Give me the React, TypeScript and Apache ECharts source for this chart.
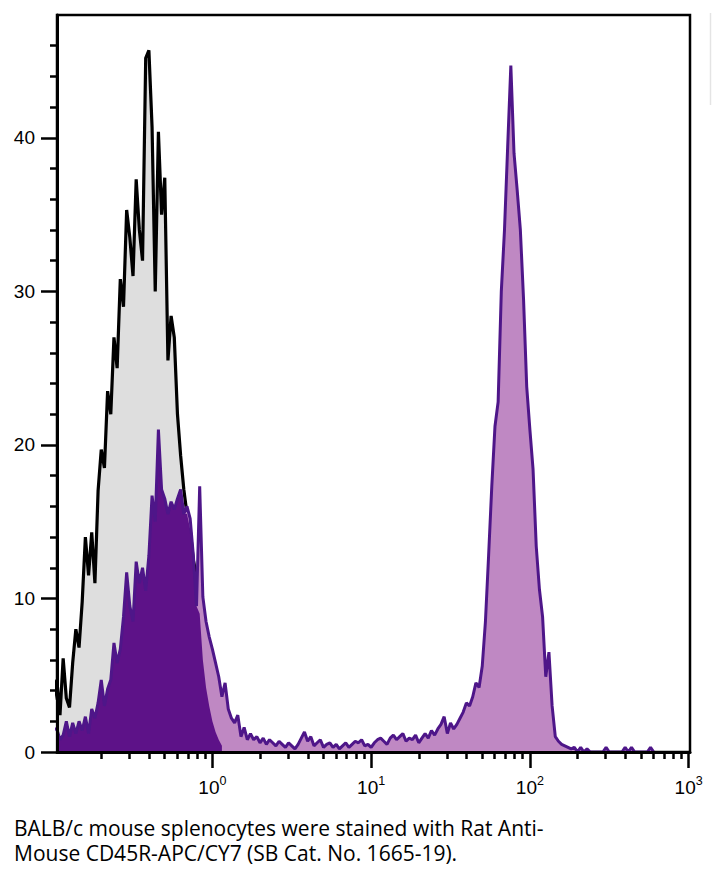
import React, { useEffect, useRef } from "react";
import * as echarts from "echarts";

// Axis ranges
const X_MIN = 0.105;
const X_MAX = 1020;
const Y_MIN = 0;
const Y_MAX = 48;

// Histogram channels: uniformly spaced in log10, starting at 10^-1, 0.02 decade wide
const BIN_LOG_START = -1;
const BIN_LOG_WIDTH = 0.02;

const xMajorTicks = [1, 10, 100, 1000];
const xMinorTicks = [
  0.2, 0.3, 0.4, 0.5, 0.6, 0.7, 0.8, 0.9,
  2, 3, 4, 5, 6, 7, 8, 9,
  20, 30, 40, 50, 60, 70, 80, 90,
  200, 300, 400, 500, 600, 700, 800, 900,
];
const yMajorTicks = [0, 10, 20, 30, 40];
const yMinorTicks = [2, 4, 6, 8, 12, 14, 16, 18, 22, 24, 26, 28, 32, 34, 36, 38, 42, 44, 46];

// Isotype control (black outline, grey fill)
const controlCounts = [
  3.4, 4.7, 2.4, 6.1, 3.5, 2.9, 5.8, 8.0, 6.8, 9.8,
  14.0, 11.5, 14.3, 11.0, 17.0, 19.7, 18.5, 23.5, 22.0, 27.0,
  25.0, 30.8, 29.0, 35.3, 33.5, 31.0, 37.3, 34.0, 32.0, 45.2,
  45.7, 40.7, 30.0, 40.4, 35.0, 37.4, 25.5, 28.4, 27.0, 22.0,
  19.3, 17.1, 15.5, 14.5, 12.5, 11.5, 9.0, 6.0, 4.2, 3.0,
  2.0, 1.3, 0.8, 0.4,
];

// CD45R-APC/CY7 stained sample (purple)
const stainedCounts = [
  1.5, 1.5, 0.8, 1.1, 2.0, 1.0, 1.9, 1.2, 2.0, 1.4,
  2.3, 1.2, 2.8, 2.2, 3.2, 4.7, 3.0, 4.1, 4.7, 7.1,
  5.8, 6.7, 8.8, 11.7, 9.5, 8.5, 12.4, 11.0, 12.0, 10.5,
  12.8, 16.7, 15.0, 21.0, 17.1, 16.5, 15.5, 16.3, 15.8, 16.5,
  17.1, 15.5, 16.0, 15.2, 12.8, 9.5, 17.3, 10.1, 8.5, 7.5,
  6.7, 5.8, 4.9, 3.6, 4.5, 2.8, 2.2, 1.9, 2.4, 1.0,
  1.6, 0.8, 1.2, 0.8, 1.0, 0.6, 0.9, 0.5, 0.8, 0.6,
  0.4, 0.7, 0.5, 0.3, 0.6, 0.4, 0.2, 0.5, 0.9, 1.3,
  0.7, 1.0, 0.4, 0.6, 0.8, 0.3, 0.5, 0.6, 0.3, 0.5,
  0.2, 0.4, 0.6, 0.3, 0.5, 0.7, 0.6, 0.8, 0.4, 0.5,
  0.3, 0.6, 0.8, 0.9, 0.7, 0.5, 0.9, 1.1, 0.8, 1.0,
  1.2, 0.7, 0.9, 0.8, 1.1, 0.6, 0.9, 1.2, 0.9, 1.4,
  1.1, 1.5, 1.8, 2.3, 1.2, 1.9, 1.5, 1.8, 2.2, 2.6,
  3.2, 3.0, 3.6, 4.5, 4.2, 5.6, 8.5, 12.8, 17.3, 21.2,
  22.8, 30.0, 34.0, 39.4, 44.7, 39.0, 36.6, 34.0, 29.5, 23.8,
  21.0, 18.4, 13.4, 10.6, 8.8, 4.9, 6.5, 3.0, 1.0, 0.7,
  0.5, 0.4, 0.3, 0.2, 0.3, 0, 0.3, 0, 0.2, 0,
  0, 0, 0, 0, 0.3, 0, 0, 0, 0, 0,
  0.3, 0, 0.3, 0, 0, 0, 0, 0, 0.3, 0,
];

const captionLines = [
  "BALB/c mouse splenocytes were stained with Rat Anti-",
  "Mouse CD45R-APC/CY7 (SB Cat. No. 1665-19).",
];

const binX = (i: number) => Math.pow(10, BIN_LOG_START + i * BIN_LOG_WIDTH);

export default function App() {
  const ref = useRef<HTMLDivElement>(null);

  useEffect(() => {
    if (!ref.current) return;
    const chart = echarts.init(ref.current, undefined, { renderer: "svg" });

    const controlData = controlCounts.map((c, i) => [binX(i), c]);
    const stainedData = stainedCounts.map((c, i) => [binX(i), c]);
    const overlapData = controlCounts.map((c, i) => [binX(i), Math.min(c, stainedCounts[i] ?? 0)]);

    const labelFont = "Liberation Sans, Arial, sans-serif";

    chart.setOption({
      animation: false,
      grid: {
        left: 57,
        right: 22,
        top: 15,
        bottom: 126,
        show: true,
        borderColor: "#000",
        borderWidth: 2.5,
        backgroundColor: "transparent",
      },
      xAxis: [
        {
          type: "log",
          logBase: 10,
          min: X_MIN,
          max: X_MAX,
          position: "bottom",
          z: 10,
          axisLine: { show: true, onZero: false, lineStyle: { color: "#000", width: 3 } },
          axisTick: {
            show: true,
            customValues: xMajorTicks,
            length: 16,
            lineStyle: { color: "#000", width: 2.5 },
          },
          axisLabel: {
            customValues: xMajorTicks,
            margin: 22,
            formatter: (v: number) => `{b|10}{s|${Math.round(Math.log10(v))}}`,
            rich: {
              b: { fontSize: 19, fontFamily: labelFont, color: "#000", lineHeight: 26 },
              s: { fontSize: 12.5, fontFamily: labelFont, color: "#000", lineHeight: 12, verticalAlign: "top" },
            },
          },
          splitLine: { show: false },
          minorTick: { show: false },
        },
        {
          type: "log",
          logBase: 10,
          min: X_MIN,
          max: X_MAX,
          position: "bottom",
          z: 10,
          axisLine: { show: false, onZero: false },
          axisTick: {
            show: true,
            customValues: xMinorTicks,
            length: 7,
            lineStyle: { color: "#000", width: 2.5 },
          },
          axisLabel: { show: false },
          splitLine: { show: false },
        },
      ],
      yAxis: [
        {
          type: "value",
          min: Y_MIN,
          max: Y_MAX,
          interval: 10,
          position: "left",
          z: 10,
          axisLine: { show: true, onZero: false, lineStyle: { color: "#000", width: 3 } },
          axisTick: {
            show: true,
            customValues: yMajorTicks,
            length: 16,
            lineStyle: { color: "#000", width: 2.5 },
          },
          axisLabel: {
            customValues: yMajorTicks,
            margin: 22,
            fontSize: 19,
            fontFamily: labelFont,
            color: "#000",
          },
          splitLine: { show: false },
        },
        {
          type: "value",
          min: Y_MIN,
          max: Y_MAX,
          position: "left",
          z: 10,
          axisLine: { show: false, onZero: false },
          axisTick: {
            show: true,
            customValues: yMinorTicks,
            length: 7,
            lineStyle: { color: "#000", width: 2.5 },
          },
          axisLabel: { show: false },
          splitLine: { show: false },
        },
      ],
      series: [
        {
          name: "Isotype control",
          type: "line",
          xAxisIndex: 0,
          yAxisIndex: 0,
          data: controlData,
          showSymbol: false,
          symbol: "none",
          clip: true,
          silent: true,
          z: 1,
          lineStyle: { color: "#000", width: 3.2 },
          areaStyle: { color: "#dedede", opacity: 1 },
        },
        {
          name: "Stained fill",
          type: "line",
          xAxisIndex: 0,
          yAxisIndex: 0,
          data: stainedData,
          showSymbol: false,
          symbol: "none",
          clip: true,
          silent: true,
          z: 2,
          lineStyle: { width: 0, opacity: 0 },
          areaStyle: { color: "#bf88c3", opacity: 1 },
        },
        {
          name: "Overlap",
          type: "line",
          xAxisIndex: 0,
          yAxisIndex: 0,
          data: overlapData,
          showSymbol: false,
          symbol: "none",
          clip: true,
          silent: true,
          z: 3,
          lineStyle: { width: 0, opacity: 0 },
          areaStyle: { color: "#5d1288", opacity: 1 },
        },
        {
          name: "Stained",
          type: "line",
          xAxisIndex: 0,
          yAxisIndex: 0,
          data: stainedData,
          showSymbol: false,
          symbol: "none",
          clip: true,
          silent: true,
          z: 4,
          lineStyle: { color: "#4e1689", width: 3 },
        },
      ],
      graphic: [
        {
          type: "text",
          left: 14,
          top: 815,
          style: {
            text: captionLines.join("\n"),
            fontSize: 21,
            fontFamily: "Open Sans, sans-serif",
            lineHeight: 25.5,
            fill: "#000",
          },
        },
        {
          type: "line",
          shape: { x1: 710.5, y1: 13, x2: 710.5, y2: 105 },
          style: { stroke: "#e4e4e4", lineWidth: 1.5 },
        },
      ],
    });

    return () => chart.dispose();
  }, []);

  return (
    <div
      ref={ref}
      style={{ position: "fixed", left: 0, top: 0, width: 712, height: 878, background: "#fff" }}
    />
  );
}
